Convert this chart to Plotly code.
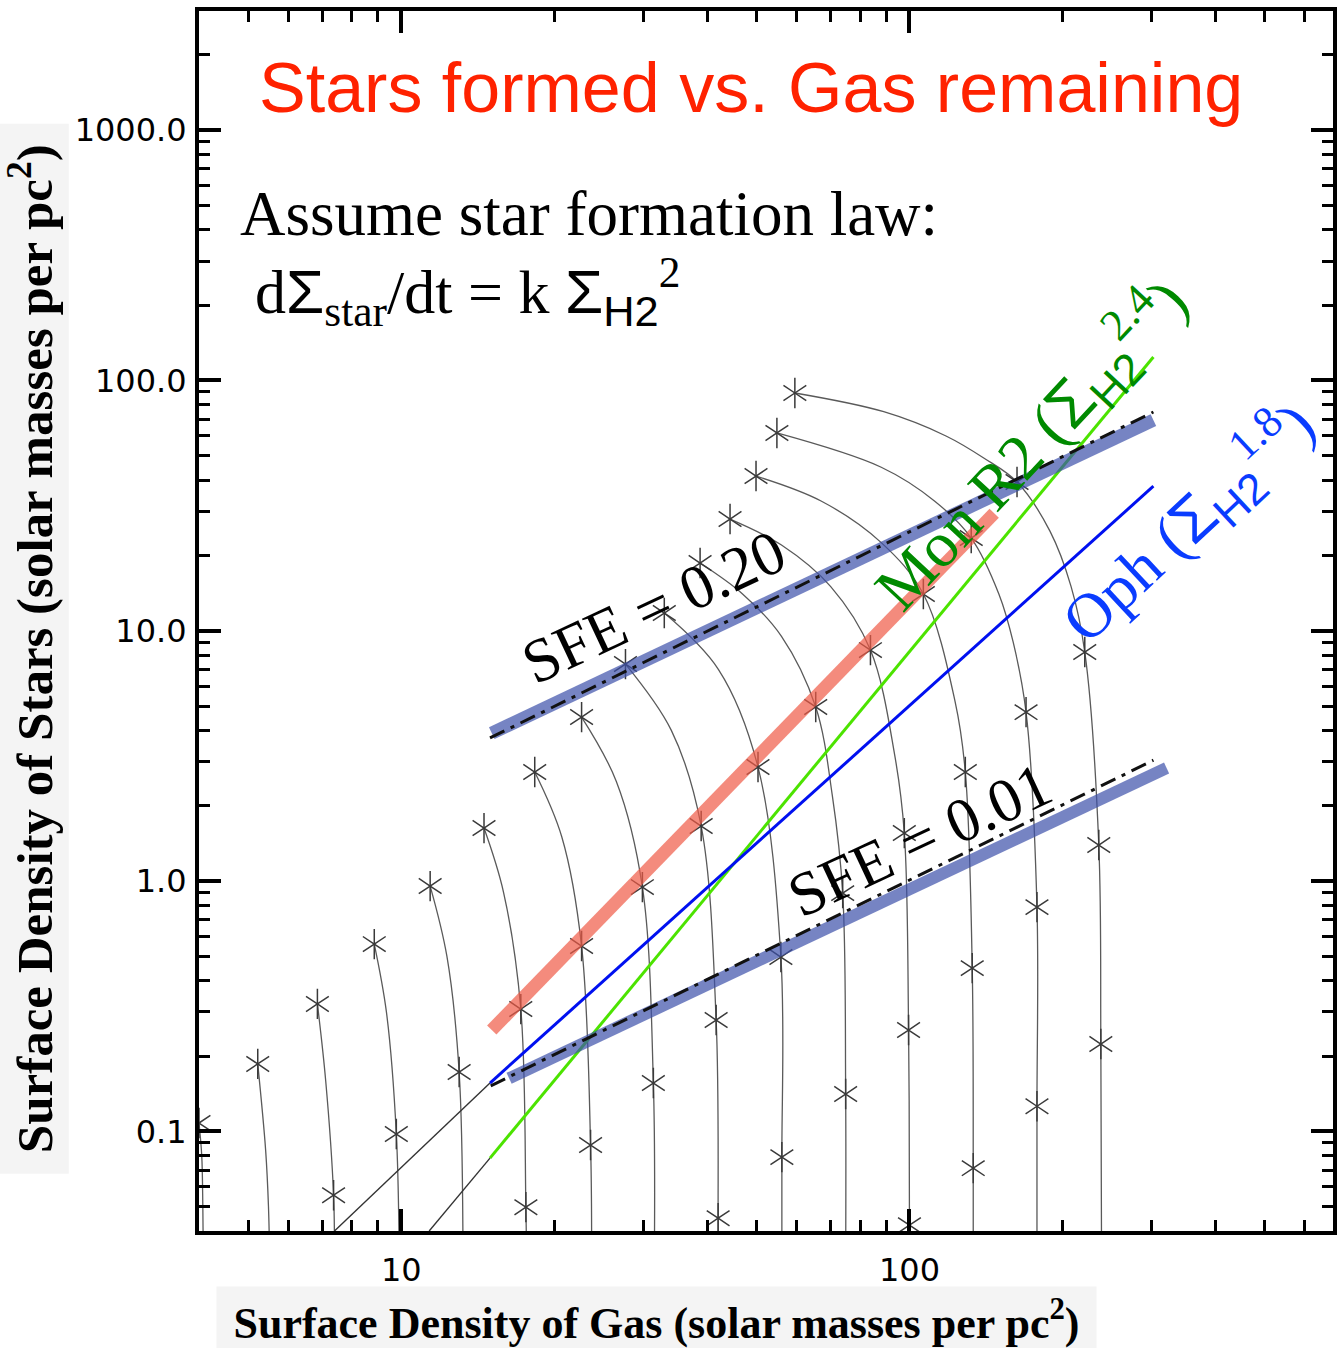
import plotly.graph_objects as go

# evolutionary tracks: gas vs stars surface density (bottom -> end point)
track_gas = [
    [4.08, 4.07, 4.05, 4.0],
    [5.51, 5.48, 5.41, 5.22],
    [7.39, 7.36, 7.1, 6.84],
    [9.91, 9.78, 9.35, 8.85],
    [13.23, 13.0, 12.3, 11.40],
    [17.66, 17.59, 17.19, 15.9, 14.55],
    [23.69, 23.58, 22.64, 20.7, 18.31],
    [31.48, 31.34, 29.82, 26.5, 22.64],
    [42.03, 42.03, 41.65, 38.92, 34.0, 27.62],
    [56.1, 56.1, 55.85, 50.35, 42.1, 32.93],
    [74.9, 74.9, 73.9, 70.5, 65.4, 56.0, 47.0, 38.73],
    [100, 100, 99.6, 97.7, 93.5, 83.8, 70.0, 56.0, 44.36],
    [133.5, 133.5, 132.9, 128.8, 123.0, 106.5, 88.0, 67.0, 49.9],
    [178.2, 178.2, 178.2, 169.6, 160.0, 150.0, 132.3, 112.0, 88.0, 54.85],
    [238.8, 238.0, 235.8, 221.3, 208.0, 189.0, 162.8, 140.0, 118.0, 89.0, 59.5],
]
track_star = [
    [0.03, 0.05, 0.08, 0.108],
    [0.03, 0.05, 0.084, 0.186],
    [0.03, 0.0556, 0.16, 0.323],
    [0.03, 0.0976, 0.3, 0.56],
    [0.03, 0.1726, 0.5, 0.955],
    [0.03, 0.0498, 0.308, 0.9, 1.628],
    [0.03, 0.0882, 0.55, 1.5, 2.726],
    [0.03, 0.156, 0.946, 2.5, 4.52],
    [0.03, 0.045, 0.2785, 1.659, 4.0, 7.36],
    [0.03, 0.0789, 0.497, 2.854, 7.0, 11.77],
    [0.03, 0.141, 0.895, 2.2, 4.96, 9.5, 14.0, 18.64],
    [0.03, 0.0422, 0.254, 1.555, 3.2, 8.37, 15.0, 22.0, 27.95],
    [0.03, 0.0713, 0.449, 2.726, 5.2, 14.02, 22.5, 33.0, 41.5],
    [0.03, 0.126, 0.787, 4.73, 9.0, 14.0, 23.47, 33.0, 45.0, 61.7],
    [0.03, 0.2233, 1.393, 8.22, 15.0, 25.0, 39.3, 49.0, 60.0, 75.0, 89.1],
]

# asterisks: snapshots at fixed times
snap_gas = [4.0, 5.22, 6.84, 8.85, 11.40, 14.55, 18.31, 22.64, 27.62, 32.93, 38.73, 44.36, 49.9, 54.85, 59.5,
            7.36, 9.78, 13.0, 17.19, 22.64, 29.82, 38.92, 50.35, 65.4, 83.8, 106.5, 132.3, 162.8,
            17.59, 23.58, 31.34, 41.65, 55.85, 73.9, 97.7, 128.8, 169.6, 221.3,
            42.03, 56.1, 74.9, 99.6, 132.9, 178.2, 235.8,
            100, 133.5, 178.2, 238.0]
snap_star = [0.108, 0.186, 0.323, 0.56, 0.955, 1.628, 2.726, 4.52, 7.36, 11.77, 18.64, 27.95, 41.5, 61.7, 89.1,
             0.0556, 0.0976, 0.1726, 0.308, 0.55, 0.946, 1.659, 2.854, 4.96, 8.37, 14.02, 23.47, 39.3,
             0.0498, 0.0882, 0.156, 0.2785, 0.497, 0.895, 1.555, 2.726, 4.73, 8.22,
             0.045, 0.0789, 0.141, 0.254, 0.449, 0.787, 1.393,
             0.0422, 0.0713, 0.126, 0.2233]

# straight lines (end points)
fit_gas, fit_star = [15.07, 146.8], [0.254, 29.5]            # red fit
monr2_gas, monr2_star = [14.95, 302], [0.0782, 124]          # Mon R2, index 2.4
oph_gas, oph_star = [14.95, 302], [0.156, 37.8]              # Oph, index 1.8
oph_ext_gas, oph_ext_star = [7.39, 14.95], [0.04, 0.156]
monr2_ext_gas, monr2_ext_star = [11.35, 14.95], [0.04, 0.0782]
sfe20_band_gas, sfe20_band_star = [15.07, 302], [3.9, 69.5]
sfe20_gas, sfe20_star = [14.95, 302], [3.73, 74.8]
sfe01_band_gas, sfe01_band_star = [16.3, 320.6], [0.163, 2.83]
sfe01_gas, sfe01_star = [15.0, 302], [0.152, 3.04]

x_ticks = [10, 100]
x_ticktext = ["10", "100"]
x_minor = [5, 6, 7, 8, 9, 20, 30, 40, 50, 60, 70, 80, 90, 200, 300, 400, 500, 600]
y_ticks = [0.1, 1, 10, 100, 1000]
y_ticktext = ["0.1", "1.0", "10.0", "100.0", "1000.0"]
y_minor = [0.05, 0.06, 0.07, 0.08, 0.09, 0.2, 0.3, 0.4, 0.5, 0.6, 0.7, 0.8, 0.9,
           2, 3, 4, 5, 6, 7, 8, 9, 20, 30, 40, 50, 60, 70, 80, 90,
           200, 300, 400, 500, 600, 700, 800, 900, 2000]

SERIF = "Liberation Serif"
SANS = "Liberation Sans"
SIG = '<span style="font-family:Liberation Sans">Σ</span>'
H2 = '<span style="font-family:Liberation Sans">H2</span>'

fig = go.Figure()

for gx, sy in zip(track_gas, track_star):
    fig.add_trace(go.Scatter(x=gx, y=sy, mode="lines",
                             line=dict(color="#5a5a5a", width=1.3, shape="spline")))

for sym in ["y-up", "y-down"]:
    fig.add_trace(go.Scatter(x=snap_gas, y=snap_star, mode="markers",
                             marker=dict(symbol=sym, size=19, color="#3a3a3a",
                                         line=dict(color="#3a3a3a", width=1.5))))

def seg(x, y, color, width, dash=None):
    fig.add_trace(go.Scatter(x=x, y=y, mode="lines",
                             line=dict(color=color, width=width, dash=dash)))

seg(oph_ext_gas, oph_ext_star, "#333333", 1.4)
seg(monr2_ext_gas, monr2_ext_star, "#333333", 1.4)
seg(monr2_gas, monr2_star, "#4ce300", 3)
seg(oph_gas, oph_star, "#0010f0", 3)
seg(fit_gas, fit_star, "rgba(240,90,70,0.7)", 13)
seg(sfe20_band_gas, sfe20_band_star, "rgba(60,80,170,0.7)", 13)
seg(sfe01_band_gas, sfe01_band_star, "rgba(60,80,170,0.7)", 12)
seg(sfe20_gas, sfe20_star, "#111111", 3, "16px,7px,4px,7px")
seg(sfe01_gas, sfe01_star, "#111111", 3, "16px,7px,4px,7px")

axis_common = dict(type="log", showline=True, linecolor="black", linewidth=4, mirror="ticks",
                   ticks="inside", ticklen=22, tickwidth=3.5, tickcolor="black",
                   showgrid=False, zeroline=False,
                   tickfont=dict(family="DejaVu Sans", size=32, color="black"))

fig.update_xaxes(range=[0.60206, 2.8334], tickmode="array", tickvals=x_ticks, ticktext=x_ticktext,
                 ticklabelstandoff=8,
                 minor=dict(ticks="inside", ticklen=11, tickwidth=3, tickcolor="black",
                            tickmode="array", tickvals=x_minor, showgrid=False),
                 **axis_common)
fig.update_yaxes(range=[-1.398, 3.476], tickmode="array", tickvals=y_ticks, ticktext=y_ticktext,
                 ticklabelstandoff=2,
                 minor=dict(ticks="inside", ticklen=11, tickwidth=3, tickcolor="black",
                            tickmode="array", tickvals=y_minor, showgrid=False),
                 **axis_common)

ann = []
ann.append(dict(text="Stars formed vs. Gas remaining", x=0.4868, y=0.937,
                font=dict(family=SANS, size=70, color="#ff2200")))
ann.append(dict(text="Assume star formation law:", x=0.034, y=0.8336, xanchor="left",
                font=dict(family=SERIF, size=63, color="black")))
ann.append(dict(text=f"d{SIG}<sub>star</sub>/dt = k {SIG}<sub>{H2}</sub><sup>2</sup>", x=0.048, y=0.77,
                xanchor="left", font=dict(family=SERIF, size=62, color="black")))
ann.append(dict(text="SFE = 0.20", x=0.4007, y=0.5115, textangle=-25,
                font=dict(family=SERIF, size=62, color="black")))
ann.append(dict(text="SFE = 0.01", x=0.6353, y=0.3205, textangle=-25,
                font=dict(family=SERIF, size=62, color="black")))
ann.append(dict(text=f"Mon R2 ({SIG}<sub>{H2}</sub><sup>2.4</sup>)", x=0.733, y=0.645, textangle=-47,
                font=dict(family=SERIF, size=64, color="#008a00")))
ann.append(dict(text=f"Oph ({SIG}<sub>{H2}</sub><sup>1.8</sup>)", x=0.8726, y=0.581, textangle=-43,
                font=dict(family=SERIF, size=63, color="#0a3cff")))
ann.append(dict(text="<b>Surface Density of Stars (solar masses per pc<sup>2</sup>)</b>",
                x=-0.1475, y=0.4775, textangle=-90, width=1047, height=72, bgcolor="#f4f4f4",
                font=dict(family=SERIF, size=51, color="black")))
ann.append(dict(text="<b>Surface Density of Gas (solar masses per pc<sup>2</sup>)</b>",
                x=0.4038, y=-0.073, width=877, height=64, bgcolor="#f4f4f4",
                font=dict(family=SERIF, size=44, color="black")))
for a in ann:
    a.setdefault("xanchor", "center")
    a.update(xref="paper", yref="paper", yanchor="middle", showarrow=False)

fig.update_layout(width=1337, height=1348, margin=dict(l=199, r=0, t=11, b=117),
                  plot_bgcolor="white", paper_bgcolor="white", showlegend=False,
                  annotations=ann)

fig.write_html("out.html", config={"displayModeBar": False},
               post_script="document.body.style.margin='0';")
